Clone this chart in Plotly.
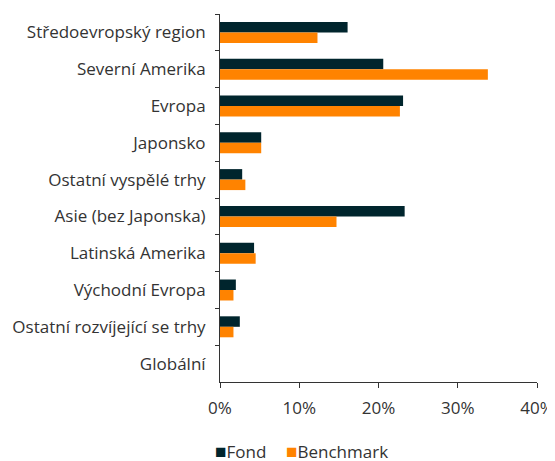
import plotly.graph_objects as go

categories = ["Středoevropský region", "Severní Amerika", "Evropa", "Japonsko",
              "Ostatní vyspělé trhy", "Asie (bez Japonska)", "Latinská Amerika",
              "Východní Evropa", "Ostatní rozvíjející se trhy", "Globální"]
fond = [16.1, 20.6, 23.1, 5.2, 2.8, 23.3, 4.3, 2.0, 2.5, 0.0]
benchmark = [12.3, 33.8, 22.7, 5.2, 3.2, 14.7, 4.5, 1.7, 1.7, 0.0]
x_ticks = [0, 10, 20, 30, 40]
x_tick_labels = ["0%", "10%", "20%", "30%", "40%"]
series_names = ["Fond", "Benchmark"]
series_colors = ["#00252D", "#FF8300"]

FONT = "Open Sans"
fig = go.Figure()
for name, vals, col in zip(series_names, [fond, benchmark], series_colors):
    fig.add_trace(go.Bar(y=categories, x=vals, name=name, orientation="h",
                         marker=dict(color=col, line=dict(width=0)),
                         showlegend=False))

# page body has an 8px margin: figure origin is at (8, 8) in the window
plot_left, plot_top, plot_w, plot_h = 212, 6, 317, 368
legend_x = [205, 276]
for lx, name, col in zip(legend_x, series_names, series_colors):
    fig.add_annotation(xref="paper", yref="paper",
                       x=(lx - plot_left) / plot_w, y=-(443 - (plot_top + plot_h)) / plot_h,
                       xanchor="left", yanchor="middle", showarrow=False,
                       text=f"<span style='color:{col};font-size:19px'>■</span>{name}",
                       font=dict(family=FONT, size=17, color="#333333"))

fig.update_layout(
    width=547, height=453,
    margin=dict(l=plot_left, r=18, t=plot_top, b=79, autoexpand=False),
    barmode="group", bargap=0.43, bargroupgap=0,
    plot_bgcolor="white", paper_bgcolor="white",
    font=dict(family=FONT, size=17, color="#333333"),
    xaxis=dict(range=[0, 40], tickvals=x_ticks, ticktext=x_tick_labels,
               showgrid=False, zeroline=False, showline=True, linecolor="#333333",
               linewidth=1, ticks="outside", ticklen=5, tickcolor="#333333",
               ticklabelstandoff=6, automargin=False),
    yaxis=dict(autorange="reversed", showgrid=False, showline=True,
               linecolor="#333333", linewidth=1, ticks="outside", ticklen=4,
               tickcolor="#333333", tickson="boundaries",
               ticklabelstandoff=10, automargin=False),
)
fig.write_html("out.html")
